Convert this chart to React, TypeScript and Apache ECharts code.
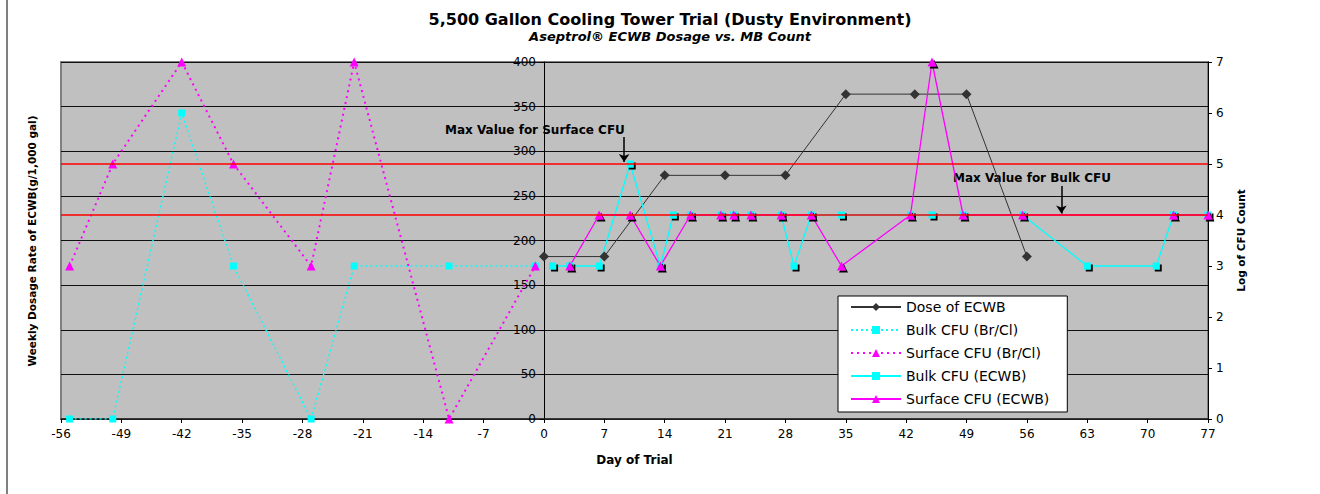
import React, { useEffect, useRef } from 'react';
import * as echarts from 'echarts';

const FONT = 'DejaVu Sans';

const TITLE = '5,500 Gallon Cooling Tower Trial (Dusty Environment)';
const SUBTITLE = 'Aseptrol® ECWB Dosage vs. MB Count';
const X_NAME = 'Day of Trial';
const Y_LEFT_NAME = 'Weekly Dosage Rate of ECWB(g/1,000 gal)';
const Y_RIGHT_NAME = 'Log of CFU Count';
const NOTE_SURFACE = 'Max Value for Surface CFU';
const NOTE_BULK = 'Max Value for Bulk CFU';

const SERIES_NAMES = [
  'Dose of ECWB',
  'Bulk CFU (Br/Cl)',
  'Surface CFU (Br/Cl)',
  'Bulk CFU (ECWB)',
  'Surface CFU (ECWB)',
];

// Day of trial axis
const X_MIN = -56;
const X_MAX = 77;
const X_STEP = 7;

// Dose of ECWB (left axis, g/1,000 gal)
const doseDays = [0, 7, 14, 21, 28, 35, 43, 49, 56];
const doseValues = [182, 182, 273, 273, 273, 364, 364, 364, 182];

// Bulk CFU (Br/Cl) (right axis, log CFU)
const bulkBrClDays = [-55, -50, -42, -36, -27, -22, -11, -1];
const bulkBrClValues = [0, 0, 6, 3, 0, 3, 3, 3];

// Surface CFU (Br/Cl)
const surfBrClDays = [-55, -50, -42, -36, -27, -22, -11, -1];
const surfBrClValues = [3, 5, 7, 5, 3, 7, 0, 3];

// Bulk CFU (ECWB)
const bulkEcwbDays = [1, 3, 6.4, 10, 13.5, 15, 17, 20.5, 22, 24, 27.5, 29, 31, 34.5, 42.5, 45, 48.6, 55.5, 63, 71, 73, 77];
const bulkEcwbValues = [3, 3, 3, 5, 3, 4, 4, 4, 4, 4, 4, 3, 4, 4, 4, 4, 4, 4, 3, 3, 4, 4];

// Surface CFU (ECWB)
const surfEcwbDays = [3, 6.4, 10, 13.5, 17, 20.5, 22, 24, 27.5, 31, 34.5, 42.5, 45, 48.6, 55.5, 73, 77];
const surfEcwbValues = [3, 4, 4, 3, 4, 4, 4, 4, 4, 4, 3, 4, 7, 4, 4, 4, 4];

// Max value limits (log CFU)
const surfaceLimit = 5;
const bulkLimit = 4;

// Annotation arrow anchors [day, log CFU]
const surfaceArrow = [[9.3, 5.53], [9.3, 5.04]];
const bulkArrow = [[60, 4.57], [60, 4.03]];

const zip = (xs: number[], ys: number[]) => xs.map((x, i) => [x, ys[i]]);

const ecwbShadow = {
  shadowColor: '#000',
  shadowOffsetX: 2,
  shadowOffsetY: 2,
  shadowBlur: 0,
};

const GRID = { left: 61, right: 112, top: 62, bottom: 75 };
const WIDTH = 1320;
const HEIGHT = 494;

export default function App() {
  const ref = useRef<HTMLDivElement>(null);

  useEffect(() => {
    document.body.style.margin = '0';
    if (!ref.current) return;
    const chart = echarts.init(ref.current, undefined, { renderer: 'svg' });

    // place the primary value axis on day 0, as in the original
    const plotW = WIDTH - GRID.left - GRID.right;
    const zeroOffset = -((0 - X_MIN) / (X_MAX - X_MIN)) * plotW;

    const option: any = {
      animation: false,
      backgroundColor: '#ffffff',
      textStyle: { fontFamily: FONT },
      grid: {
        ...GRID,
        show: true,
        backgroundColor: '#C0C0C0',
        borderColor: '#808080',
        borderWidth: 2,
      },
      legend: {
        orient: 'vertical',
        left: 838,
        top: 296,
        data: SERIES_NAMES,
        backgroundColor: '#ffffff',
        borderColor: '#000000',
        borderWidth: 1,
        borderRadius: 0,
        padding: [4, 18, 6, 12],
        itemWidth: 50,
        itemHeight: 10,
        itemGap: 9,
        selectedMode: false,
        textStyle: { fontFamily: FONT, fontSize: 14, color: '#000' },
        itemStyle: { shadowOffsetX: 0, shadowOffsetY: 0, shadowColor: 'transparent' },
      },
      xAxis: {
        type: 'value',
        min: X_MIN,
        max: X_MAX,
        interval: X_STEP,
        name: X_NAME,
        nameLocation: 'middle',
        nameGap: 35,
        nameTextStyle: { fontFamily: FONT, fontSize: 12, fontWeight: 'bold', color: '#000' },
        axisLine: { show: true, onZero: false, lineStyle: { color: '#222', width: 1.5 } },
        axisTick: { show: true, length: 4, lineStyle: { color: '#000' } },
        axisLabel: { color: '#000', fontSize: 12, fontFamily: FONT, margin: 9 },
        splitLine: { show: false },
      },
      yAxis: [
        {
          type: 'value',
          min: 0,
          max: 400,
          interval: 50,
          position: 'left',
          offset: zeroOffset,
          axisLine: { show: true, onZero: false, lineStyle: { color: '#000', width: 1 } },
          axisTick: { show: true, length: 4, lineStyle: { color: '#000' } },
          axisLabel: { color: '#000', fontSize: 12, fontFamily: FONT, margin: 8 },
          splitLine: { show: true, lineStyle: { color: '#111', width: 1 } },
        },
        {
          type: 'value',
          min: 0,
          max: 7,
          interval: 1,
          position: 'right',
          name: Y_RIGHT_NAME,
          nameLocation: 'middle',
          nameGap: 27,
          nameTextStyle: { fontFamily: FONT, fontSize: 10.5, fontWeight: 'bold', color: '#000' },
          axisLine: { show: true, onZero: false, lineStyle: { color: '#000', width: 1 } },
          axisTick: { show: true, length: 4, lineStyle: { color: '#000' } },
          axisLabel: { color: '#000', fontSize: 12, fontFamily: FONT, margin: 8 },
          splitLine: { show: false },
        },
      ],
      series: [
        {
          name: SERIES_NAMES[0],
          type: 'line',
          yAxisIndex: 0,
          data: zip(doseDays, doseValues),
          symbol: 'diamond',
          symbolSize: 10,
          itemStyle: { color: '#333333' },
          lineStyle: { color: '#333333', width: 1 },
        },
        {
          name: SERIES_NAMES[1],
          type: 'line',
          yAxisIndex: 1,
          data: zip(bulkBrClDays, bulkBrClValues),
          symbol: 'rect',
          symbolSize: 7,
          itemStyle: { color: '#00FFFF' },
          lineStyle: { color: '#00FFFF', width: 1.5, type: [2, 3] },
        },
        {
          name: SERIES_NAMES[2],
          type: 'line',
          yAxisIndex: 1,
          data: zip(surfBrClDays, surfBrClValues),
          symbol: 'triangle',
          symbolSize: 9,
          itemStyle: { color: '#FF00FF' },
          lineStyle: { color: '#FF00FF', width: 2, type: [2, 4] },
        },
        {
          name: SERIES_NAMES[3],
          type: 'line',
          yAxisIndex: 1,
          data: zip(bulkEcwbDays, bulkEcwbValues),
          symbol: 'rect',
          symbolSize: 7,
          itemStyle: { color: '#00FFFF', ...ecwbShadow },
          lineStyle: { color: '#00FFFF', width: 1.3 },
          markLine: {
            silent: true,
            symbol: ['none', 'arrow'],
            symbolSize: 8,
            label: { show: false },
            lineStyle: { color: '#000', width: 1.5, type: 'solid' },
            data: [
              [{ coord: surfaceArrow[0] }, { coord: surfaceArrow[1] }],
              [{ coord: bulkArrow[0] }, { coord: bulkArrow[1] }],
            ],
          },
        },
        {
          name: SERIES_NAMES[4],
          type: 'line',
          yAxisIndex: 1,
          data: zip(surfEcwbDays, surfEcwbValues),
          symbol: 'triangle',
          symbolSize: 9,
          itemStyle: { color: '#FF00FF', ...ecwbShadow },
          lineStyle: { color: '#FF00FF', width: 1.3 },
          markLine: {
            silent: true,
            symbol: 'none',
            label: { show: false },
            lineStyle: { color: '#FF0000', width: 1.5, type: 'solid' },
            data: [{ yAxis: surfaceLimit }, { yAxis: bulkLimit }],
          },
        },
      ],
      graphic: [
        { type: 'line', shape: { x1: 7, y1: 0, x2: 7, y2: HEIGHT }, style: { stroke: '#000', lineWidth: 1 } },
        {
          type: 'text', x: 670, y: 19,
          style: { text: TITLE, font: `bold 16px "${FONT}"`, fill: '#000', align: 'center', verticalAlign: 'middle' },
        },
        {
          type: 'text', x: 670, y: 36,
          style: { text: SUBTITLE, font: `italic bold 13px "${FONT}"`, fill: '#000', align: 'center', verticalAlign: 'middle' },
        },
        {
          type: 'text', x: 32, y: 241, rotation: Math.PI / 2,
          style: { text: Y_LEFT_NAME, font: `bold 10.5px "${FONT}"`, fill: '#000', align: 'center', verticalAlign: 'middle' },
        },
        {
          type: 'text', x: 445, y: 130,
          style: { text: NOTE_SURFACE, font: `bold 12px "${FONT}"`, fill: '#000', align: 'left', verticalAlign: 'middle' },
        },
        {
          type: 'text', x: 953, y: 178,
          style: { text: NOTE_BULK, font: `bold 12px "${FONT}"`, fill: '#000', align: 'left', verticalAlign: 'middle' },
        },
      ],
    };

    chart.setOption(option);
    return () => chart.dispose();
  }, []);

  return <div ref={ref} style={{ width: WIDTH, height: HEIGHT }} />;
}
